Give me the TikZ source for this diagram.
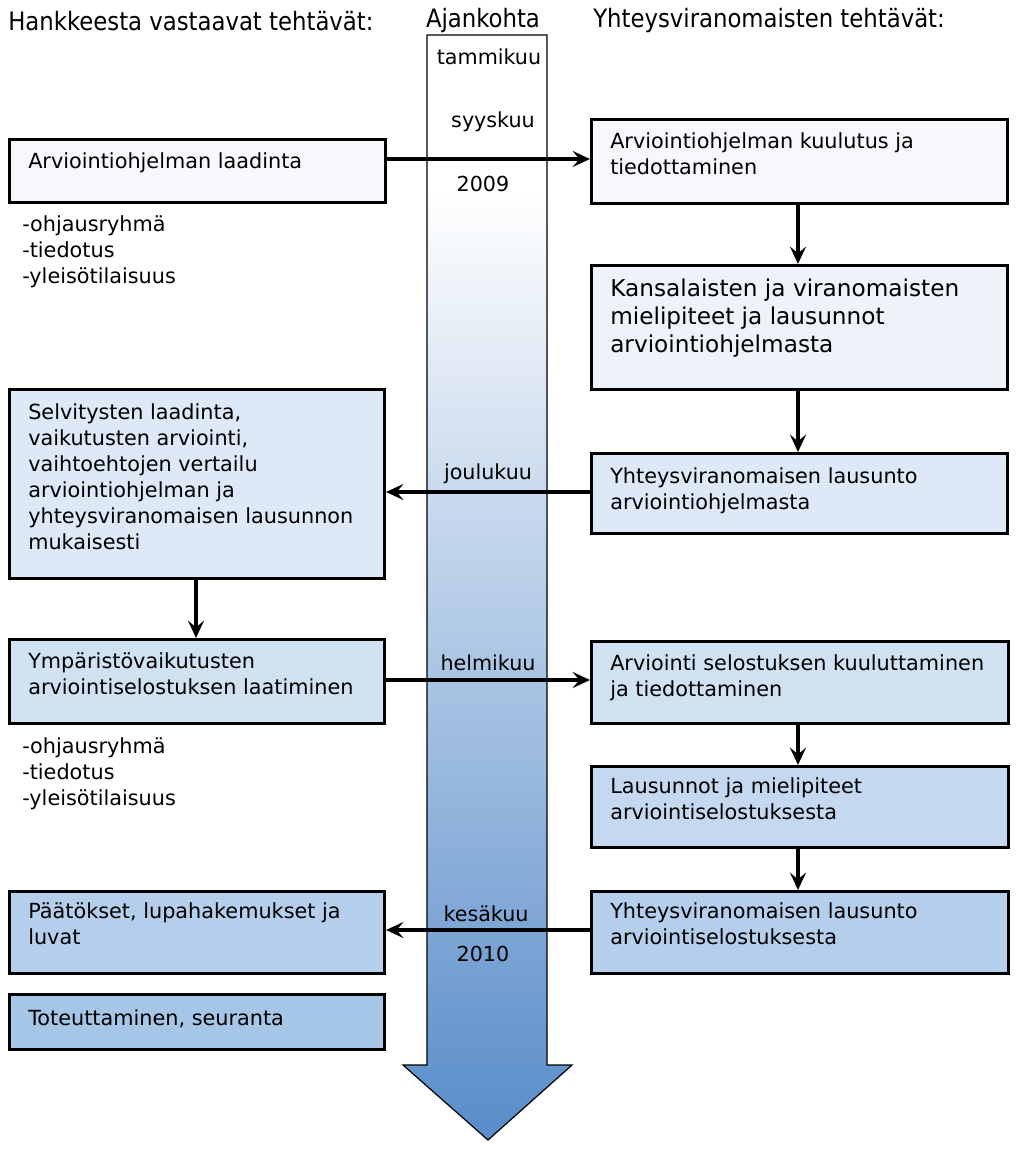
\documentclass[tikz,border=0pt]{standalone}
\usepackage{fontspec}
\setmainfont{DejaVu Sans}
\newfontfamily\headfont{DejaVu Sans Condensed}
\usetikzlibrary{arrows.meta}
\definecolor{c0}{RGB}{246,248,252}
\definecolor{c1}{RGB}{238,243,250}
\definecolor{c2}{RGB}{221,233,246}
\definecolor{c3}{RGB}{208,225,242}
\definecolor{c4}{RGB}{196,217,239}
\definecolor{c5}{RGB}{180,206,235}
\definecolor{c6}{RGB}{166,198,231}
\definecolor{barblue}{RGB}{88,140,201}
\definecolor{barmid}{RGB}{178,201,231}
\begin{document}
\begin{tikzpicture}[x=0.75pt,y=-0.75pt,
  box/.style={draw=black, line width=2.3pt, anchor=north west, inner sep=0pt},
  txt/.style={anchor=west, align=left, font=\fontsize{15.6}{19.5}\selectfont, inner sep=0pt},
  bigtxt/.style={anchor=west, align=left, font=\fontsize{17.4}{21}\selectfont, inner sep=0pt},
  head/.style={anchor=west, font=\headfont\fontsize{19}{22}\selectfont, inner sep=0pt},
  month/.style={font=\fontsize{15.5}{18}\selectfont, inner sep=0pt},
  conn/.style={line width=2.3pt, -{Stealth[length=13pt,width=12pt,inset=5pt]}}]
\useasboundingbox (0,0) rectangle (1024,1158);
% timeline arrow
\begin{scope}
\clip (427,35) -- (547,35) -- (547,1065) -- (572,1065) -- (488,1140) -- (403,1065) -- (427,1065) -- cycle;
\fill[white] (403,30) rectangle (572,191);
\shade[top color=white, middle color=barmid, bottom color=barblue] (403,190) rectangle (572,1140);
\end{scope}
\draw[black, line width=0.9pt] (427,35) -- (547,35) -- (547,1065) -- (572,1065) -- (488,1140) -- (403,1065) -- (427,1065) -- cycle;
% headers
\node[head] (h1) at (8,21) {Hankkeesta vastaavat tehtävät:};
\node[head, anchor=center] (h2) at (483,21) {Ajankohta};
\node[head] (h3) at (593,21) {Yhteysviranomaisten tehtävät:};
% months
\node[month] (m1) at (489,57) {tammikuu};
\node[month] (m2) at (493,122) {syyskuu};
\node[month] (m3) at (483,184) {2009};
\node[month] (m4) at (488,474) {joulukuu};
\node[month] (m5) at (488,663) {helmikuu};
\node[month] (m6) at (486,914) {kesäkuu};
\node[month] (m7) at (483,954) {2010};
% left boxes
\node[box, fill=c0, minimum width=376*0.75pt, minimum height=63*0.75pt] (L1) at (8,138) {};
\node[txt] (L1t) at (28,163) {Arviointiohjelman laadinta};
\node[txt, anchor=north west] (L1l) at (22,215) {-ohjausryhmä\\-tiedotus\\-yleisötilaisuus};
\node[box, fill=c2, minimum width=375*0.75pt, minimum height=189*0.75pt] (L2) at (8,388) {};
\node[txt, anchor=north west] (L2t) at (28,403) {Selvitysten laadinta,\\vaikutusten arviointi,\\vaihtoehtojen vertailu\\arviointiohjelman ja\\yhteysviranomaisen lausunnon\\mukaisesti};
\node[box, fill=c3, minimum width=375*0.75pt, minimum height=84*0.75pt] (L3) at (8,638) {};
\node[txt, anchor=north west] (L3t) at (28,652) {Ympäristövaikutusten\\arviointiselostuksen laatiminen};
\node[txt, anchor=north west] (L3l) at (22,737) {-ohjausryhmä\\-tiedotus\\-yleisötilaisuus};
\node[box, fill=c5, minimum width=375*0.75pt, minimum height=82*0.75pt] (L4) at (8,890) {};
\node[txt, anchor=north west] (L4t) at (28,902) {Päätökset, lupahakemukset ja\\luvat};
\node[box, fill=c6, minimum width=375*0.75pt, minimum height=55*0.75pt] (L5) at (8,993) {};
\node[txt] (L5t) at (28,1019) {Toteuttaminen, seuranta};
% right boxes
\node[box, fill=c0, minimum width=416*0.75pt, minimum height=84*0.75pt] (R1) at (590,118) {};
\node[txt, anchor=north west] (R1t) at (610,132) {Arviointiohjelman kuulutus ja\\tiedottaminen};
\node[box, fill=c1, minimum width=416*0.75pt, minimum height=124*0.75pt] (R2) at (590,264) {};
\node[bigtxt, anchor=north west] (R2t) at (610,279) {Kansalaisten ja viranomaisten\\mielipiteet ja lausunnot\\arviointiohjelmasta};
\node[box, fill=c2, minimum width=416*0.75pt, minimum height=80*0.75pt] (R3) at (590,452) {};
\node[txt, anchor=north west] (R3t) at (610,467) {Yhteysviranomaisen lausunto\\arviointiohjelmasta};
\node[box, fill=c3, minimum width=417*0.75pt, minimum height=82*0.75pt] (R4) at (590,640) {};
\node[txt, anchor=north west] (R4t) at (610,654) {Arviointi selostuksen kuuluttaminen\\ja tiedottaminen};
\node[box, fill=c4, minimum width=417*0.75pt, minimum height=81*0.75pt] (R5) at (590,765) {};
\node[txt, anchor=north west] (R5t) at (610,777) {Lausunnot ja mielipiteet\\arviointiselostuksesta};
\node[box, fill=c5, minimum width=417*0.75pt, minimum height=82*0.75pt] (R6) at (590,890) {};
\node[txt, anchor=north west] (R6t) at (610,902) {Yhteysviranomaisen lausunto\\arviointiselostuksesta};
% connectors
\draw[conn] (L1.east |- 0,159) -- (R1.west |- 0,159);
\draw[conn] (R1.south -| 798,0) -- (R2.north -| 798,0);
\draw[conn] (R2.south -| 798,0) -- (R3.north -| 798,0);
\draw[conn] (R3.west |- 0,492) -- (L2.east |- 0,492);
\draw[conn] (L2.south -| 196,0) -- (L3.north -| 196,0);
\draw[conn] (L3.east |- 0,680) -- (R4.west |- 0,680);
\draw[conn] (R4.south -| 798,0) -- (R5.north -| 798,0);
\draw[conn] (R5.south -| 798,0) -- (R6.north -| 798,0);
\draw[conn] (R6.west |- 0,930) -- (L4.east |- 0,930);
\end{tikzpicture}
\end{document}
